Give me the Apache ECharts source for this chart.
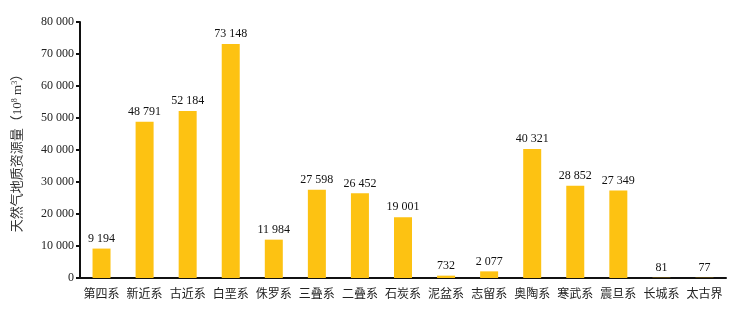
<!DOCTYPE html>
<html><head><meta charset="utf-8">
<script src="https://cdn.jsdelivr.net/npm/echarts@6/dist/echarts.min.js"></script>
<style>html,body{margin:0;padding:0;background:#fff}#c{width:741px;height:310px}</style>
</head><body><div id="c"></div>
<script>
const categories = ['第四系','新近系','古近系','白垩系','侏罗系','三叠系','二叠系','石炭系','泥盆系','志留系','奥陶系','寒武系','震旦系','长城系','太古界'];
const values = [9194, 48791, 52184, 73148, 11984, 27598, 26452, 19001, 732, 2077, 40321, 28852, 27349, 81, 77];
const yTicks = {min: 0, max: 80000, interval: 10000};

function fmt(v){ return String(v).replace(/\B(?=(\d{3})+(?!\d))/g, ' '); }
const serif = '"Liberation Serif","Times New Roman",serif';
const cjk = '"Liberation Serif","Noto Sans CJK SC",serif';

const chart = echarts.init(document.getElementById('c'));
chart.setOption({
  animation: false,
  grid: {left: 80, right: 15, top: 22, bottom: 32},
  xAxis: {
    type: 'category', data: categories,
    axisLine: {lineStyle: {color: '#111', width: 2}},
    axisTick: {inside: true, length: 4, lineStyle: {color: '#111', width: 2}},
    axisLabel: {interval: 0, color: '#222', fontSize: 12, fontFamily: cjk, margin: 11}
  },
  yAxis: {
    type: 'value', min: yTicks.min, max: yTicks.max, interval: yTicks.interval,
    splitLine: {show: false},
    axisLine: {show: true, lineStyle: {color: '#111', width: 2}},
    axisTick: {show: true, length: 4, lineStyle: {color: '#111', width: 2}},
    axisLabel: {color: '#222', fontSize: 12, fontFamily: serif, margin: 6, formatter: v => fmt(v)},
    name: '天然气地质资源量（10{s|8} m{s|3}）',
    nameLocation: 'middle', nameGap: 56, nameRotate: 90,
    nameTextStyle: {color: '#333', fontSize: 13, fontFamily: cjk,
      rich: {s: {fontSize: 8, verticalAlign: 'top', lineHeight: 8, color: '#333', fontFamily: serif, padding: [0,0,6,0]}}}
  },
  series: [{
    type: 'bar', data: values, barWidth: 18,
    itemStyle: {color: '#FDC212'},
    label: {show: true, position: 'top', distance: 4, color: '#111', fontSize: 12, fontFamily: serif, formatter: p => fmt(p.value)}
  }]
});
</script></body></html>
